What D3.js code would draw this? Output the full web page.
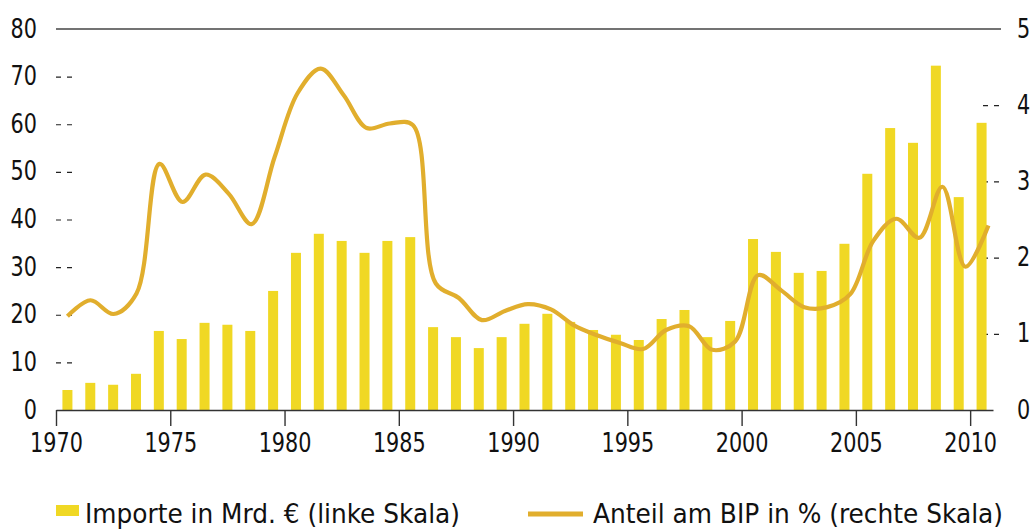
<!DOCTYPE html>
<html>
<head>
<meta charset="utf-8">
<script src="https://cdn.jsdelivr.net/npm/d3@7"></script>
<style>
  body { margin: 0; background: #fff; }
  svg text { font-family: "Liberation Sans Narrow", "DejaVu Sans Condensed", "Liberation Sans", sans-serif; fill: #111; }
</style>
</head>
<body>
<svg id="chart" width="1032" height="530"></svg>
<script>
// Import data, 1970-2010
const years = d3.range(1970, 2011)
const importe = [4.2, 5.7, 5.3, 7.6, 16.6, 14.9, 18.3, 17.9, 16.6, 25.0,
  33.0, 37.0, 35.5, 33.0, 35.5, 36.3, 17.4, 15.3, 13.0, 15.3,
  18.1, 20.2, 18.5, 16.8, 15.8, 14.7, 19.1, 21.0, 15.3, 18.7,
  35.9, 33.2, 28.8, 29.2, 34.9, 49.6, 59.2, 56.1, 72.3, 44.7, 60.3]
const anteil = [1.23, 1.44, 1.26, 1.53, 3.23, 2.73, 3.09, 2.84, 2.44, 3.32,
  4.16, 4.48, 4.13, 3.70, 3.76, 3.74, 1.66, 1.47, 1.18, 1.30,
  1.39, 1.32, 1.11, 0.98, 0.88, 0.80, 1.05, 1.10, 0.79, 0.90,
  1.77, 1.57, 1.35, 1.35, 1.52, 2.22, 2.51, 2.26, 2.93, 1.88, 2.42]
const leftTicks = [0, 10, 20, 30, 40, 50, 60, 70, 80]
const rightTicks = [0, 1, 2, 3, 4, 5]
const xTicks = [1970, 1975, 1980, 1985, 1990, 1995, 2000, 2005, 2010]

const barColor = "#f0d824"
const lineColor = "#e1ae2d"
const digitW = 13.2

const svg = d3.select("#chart")

const x = d3.scaleLinear().domain([1970, 2011]).range([56, 993])
const xLine = d3.scaleLinear().domain([1970, 2010]).range([x(1970.5), x(2010.8)])
const yLeft = d3.scaleLinear().domain([0, 80]).range([410, 29])
const yRight = d3.scaleLinear().domain([0, 5]).range([410, 29])

function styleLabels(sel) {
  sel.style("font-size", "27px")
    .attr("textLength", d => String(d).length * digitW)
    .attr("lengthAdjust", "spacingAndGlyphs")
}

// Left axis with dashed ticks
const leftAxis = svg.append("g")
    .attr("transform", "translate(72,0)")
    .call(d3.axisLeft(yLeft).tickValues(leftTicks).tickFormat(d3.format("d")).tickSize(17).tickPadding(18))
leftAxis.select(".domain").remove()
leftAxis.selectAll(".tick line")
    .attr("stroke", "#222")
    .attr("stroke-width", 1.2)
    .attr("stroke-dasharray", "5,6")
    .style("display", d => (d === 0 || d === 80) ? "none" : null)
leftAxis.selectAll(".tick text").call(styleLabels).attr("dy", "0.3em")

// Right axis
const rightAxis = svg.append("g")
    .attr("transform", "translate(983,0)")
    .call(d3.axisRight(yRight).tickValues(rightTicks).tickFormat(d3.format("d")).tickSize(17).tickPadding(17))
rightAxis.select(".domain").remove()
rightAxis.selectAll(".tick line")
    .attr("stroke", "#222")
    .attr("stroke-width", 1.2)
    .attr("stroke-dasharray", "5,6")
    .style("display", d => (d === 0 || d === 5) ? "none" : null)
rightAxis.selectAll(".tick text").call(styleLabels).attr("dy", "0.3em")

// top line
svg.append("line")
    .attr("x1", x(1970)).attr("x2", 1001)
    .attr("y1", yLeft(80)).attr("y2", yLeft(80))
    .attr("stroke", "#444")
    .attr("stroke-width", 1.4)

// bars
svg.append("g")
    .selectAll("rect")
    .data(years)
    .enter().append("rect")
    .attr("x", d => x(d + 0.5) - 5)
    .attr("width", 10)
    .attr("y", (d, i) => yLeft(importe[i]))
    .attr("height", (d, i) => yLeft(0) - yLeft(importe[i]))
    .attr("fill", barColor)

// share of GDP line
const line = d3.line()
    .x((d, i) => xLine(years[i]))
    .y(d => yRight(d))
    .curve(d3.curveCatmullRom.alpha(0.5))

svg.append("path")
    .datum(anteil)
    .attr("d", line)
    .attr("fill", "none")
    .attr("stroke", lineColor)
    .attr("stroke-width", 4.2)

// bottom axis
const bottomAxis = svg.append("g")
    .attr("transform", `translate(0,${yLeft(0)})`)
    .call(d3.axisBottom(x).tickValues(xTicks).tickFormat(d3.format("d")).tickSize(16).tickSizeOuter(0).tickPadding(7))
bottomAxis.select(".domain").attr("stroke", "#333").attr("stroke-width", 1.4)
bottomAxis.selectAll(".tick line").attr("stroke", "#333").attr("stroke-width", 1.4)
bottomAxis.selectAll(".tick text").call(styleLabels)

// legend
const legend = svg.append("g")
legend.append("rect")
    .attr("x", 56).attr("y", 505)
    .attr("width", 23).attr("height", 11)
    .attr("fill", barColor)
legend.append("text")
    .attr("x", 85).attr("y", 523)
    .style("font-size", "27px")
    .attr("textLength", 375)
    .attr("lengthAdjust", "spacingAndGlyphs")
    .text("Importe in Mrd. € (linke Skala)")
legend.append("line")
    .attr("x1", 528).attr("x2", 583)
    .attr("y1", 514).attr("y2", 514)
    .attr("stroke", lineColor)
    .attr("stroke-width", 5)
legend.append("text")
    .attr("x", 593).attr("y", 523)
    .style("font-size", "27px")
    .attr("textLength", 410)
    .attr("lengthAdjust", "spacingAndGlyphs")
    .text("Anteil am BIP in % (rechte Skala)")
</script>
</body>
</html>
